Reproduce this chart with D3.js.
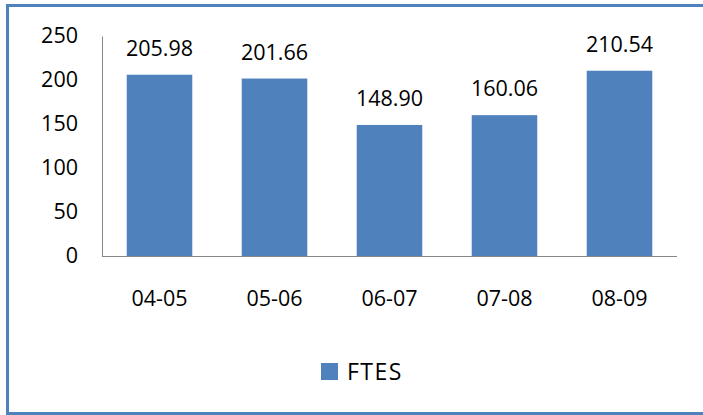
<!DOCTYPE html>
<html><head><meta charset="utf-8">
<script src="https://cdn.jsdelivr.net/npm/d3@7"></script>
<style>body{margin:0;background:#fff}svg{display:block}</style>
</head><body>
<script>
const categories = ["04-05","05-06","06-07","07-08","08-09"];
const ftes = [205.98, 201.66, 148.90, 160.06, 210.54];
const yTicks = [0, 50, 100, 150, 200, 250];
const seriesName = "FTES";

(function () {
const W = 703, H = 415;
const svg = d3.select("body").append("svg").attr("width", W).attr("height", H);
const font = "'Open Sans', 'Liberation Sans', sans-serif";
const fs = 21.5;

svg.append("rect").attr("x", 7.5).attr("y", 5.5).attr("width", 710).attr("height", 408)
  .attr("fill", "#fff").attr("stroke", "#4F81BD").attr("stroke-width", 3);

const pLeft = 102, pRight = 677, pTop = 36, pBottom = 256;
const x = d3.scaleBand().domain(categories).range([pLeft, pRight]).paddingInner(0.43).paddingOuter(0.215);
const y = d3.scaleLinear().domain([0, 250]).range([pBottom, pTop]);

svg.selectAll(".bar").data(ftes).enter().append("rect")
  .attr("x", (d, i) => x(categories[i]))
  .attr("y", d => y(d))
  .attr("width", x.bandwidth())
  .attr("height", d => y(0) - y(d))
  .attr("fill", "#4F81BD");

const yAxis = d3.axisLeft(y).tickValues(yTicks).tickSize(0).tickPadding(24).tickFormat(d3.format("d"));
const gy = svg.append("g").attr("transform", `translate(${pLeft},0)`).call(yAxis);
gy.select(".domain").attr("stroke", "#868686");
gy.selectAll("text").attr("font-family", font).attr("font-size", fs).attr("fill", "#000");

const xAxis = d3.axisBottom(x).tickSize(0).tickPadding(35);
const gx = svg.append("g").attr("transform", `translate(0,${pBottom})`).call(xAxis);
gx.select(".domain").attr("stroke", "#868686").attr("d", `M${pLeft},0.5H${pRight}`);
gx.selectAll("text").attr("font-family", font).attr("font-size", fs).attr("fill", "#000");

svg.selectAll(".lbl").data(ftes).enter().append("text")
  .attr("x", (d, i) => x(categories[i]) + x.bandwidth() / 2)
  .attr("y", d => y(d) - 19)
  .attr("text-anchor", "middle")
  .attr("font-family", font).attr("font-size", fs).attr("fill", "#000")
  .text(d => d.toFixed(2));

svg.append("rect").attr("x", 321).attr("y", 363).attr("width", 17).attr("height", 17).attr("fill", "#4F81BD");
svg.append("text").attr("x", 347).attr("y", 380).attr("font-family", font).attr("font-size", 23)
  .attr("letter-spacing", 1.5).attr("fill", "#000").text(seriesName);
})();
</script>
</body></html>
